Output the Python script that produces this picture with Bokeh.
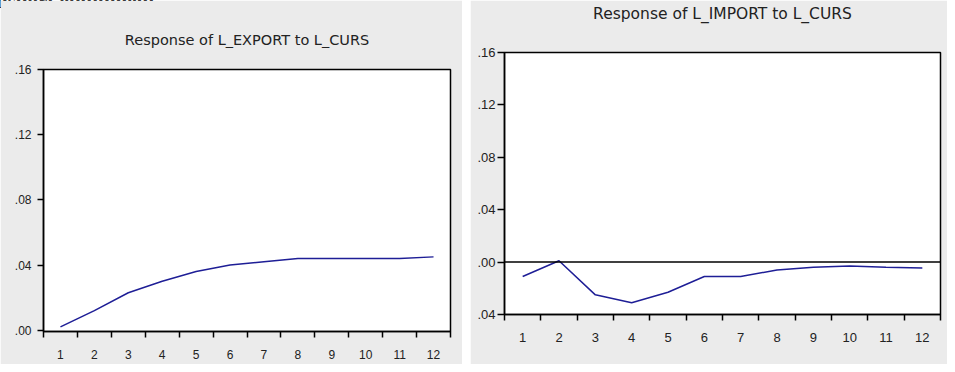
from bokeh.plotting import figure
from bokeh.models import FixedTicker, Range1d, Span, Title, Div
from bokeh.layouts import row, column
from bokeh.embed import file_html
from bokeh.resources import INLINE

periods = list(range(1, 13))
export_resp = [0.002, 0.012, 0.023, 0.030, 0.036, 0.040, 0.042, 0.044, 0.044, 0.044, 0.044, 0.045]
import_resp = [-0.011, 0.001, -0.025, -0.031, -0.023, -0.011, -0.011, -0.006, -0.004, -0.003, -0.004, -0.0045]
y_ticks_left = [0.0, 0.04, 0.08, 0.12, 0.16]
y_labels_left = {0.0: ".00", 0.04: ".04", 0.08: ".08", 0.12: ".12", 0.16: ".16"}
y_ticks_right = [-0.04, 0.0, 0.04, 0.08, 0.12, 0.16]
y_labels_right = {-0.04: ".04", 0.0: ".00", 0.04: ".04", 0.08: ".08", 0.12: ".12", 0.16: ".16"}
titles = ["Response of L_EXPORT to L_CURS", "Response of L_IMPORT to L_CURS"]
heading = "nsport equipment"

BG = "#ebebeb"
LINE = "#1e1e96"
FONT = "Liberation Sans"


def make_panel(title, y, yr, yticks, ylabels, w, h, bl, br, bt, bb, standoff,
               title_size, tick_size, ytick_out, ystandoff):
    p = figure(width=w, height=h, output_backend="svg", toolbar_location=None,
               x_range=Range1d(0.5, 12.5), y_range=Range1d(*yr),
               min_border_left=bl, min_border_right=br, min_border_top=bt, min_border_bottom=bb)
    p.frame_align = False
    p.title.text = title
    p.title.align = "center"
    p.title.text_font = "DejaVu Sans"
    p.title.text_font_style = "normal"
    p.title.text_font_size = title_size
    p.title.text_color = "#222222"
    p.title.standoff = standoff
    p.border_fill_color = BG
    p.background_fill_color = "white"
    p.outline_line_color = "black"
    p.outline_line_width = 1.5
    p.grid.visible = False

    p.xaxis.ticker = FixedTicker(ticks=periods, minor_ticks=[i + 0.5 for i in range(0, 13)])
    p.xaxis.major_tick_line_color = None
    p.xaxis.major_tick_out = 0
    p.xaxis.major_tick_in = 0
    p.xaxis.minor_tick_line_color = "black"
    p.xaxis.minor_tick_line_width = 1.5
    p.xaxis.minor_tick_out = 6
    p.xaxis.minor_tick_in = 0
    p.xaxis.axis_line_width = 1.5
    p.xaxis.major_label_standoff = 12

    p.yaxis.ticker = FixedTicker(ticks=yticks, minor_ticks=[])
    p.yaxis.major_label_overrides = ylabels
    p.yaxis.major_tick_out = ytick_out
    p.yaxis.major_tick_in = 0
    p.yaxis.major_tick_line_width = 1.5
    p.yaxis.minor_tick_line_color = None
    p.yaxis.axis_line_width = 1.5
    p.yaxis.major_label_standoff = ystandoff

    for ax in (p.xaxis, p.yaxis):
        ax.major_label_text_font = FONT
        ax.major_label_text_font_size = tick_size
        ax.major_label_text_color = "#222222"

    p.line(periods, y, line_color=LINE, line_width=1.5)
    return p


p1 = make_panel(titles[0], export_resp, (-0.0008, 0.16), y_ticks_left, y_labels_left,
                462, 364, 43, 12, 69, 33, 44, "14.5px", "12px", 6, 6)
p2 = make_panel(titles[1], import_resp, (-0.04, 0.16), y_ticks_right, y_labels_right,
                477, 364, 34, 7, 52, 50, 2, "15.5px", "13px", 7, 2)
p2.add_layout(Title(text=" ", text_font_size="2px", standoff=25), "above")
p2.add_layout(Span(location=0, dimension="width", line_color="black", line_width=1.5))

head = Div(text=heading, width=300, height=0,
           styles={"position": "absolute", "top": "-19px", "left": "-9px",
                   "font-family": "'Liberation Serif', serif", "font-weight": "bold",
                   "font-size": "21px", "color": "#000000", "white-space": "nowrap"})

layout = column(head, row(p1, p2, spacing=8), spacing=0)
open("out.html", "w").write(file_html(layout, INLINE))
